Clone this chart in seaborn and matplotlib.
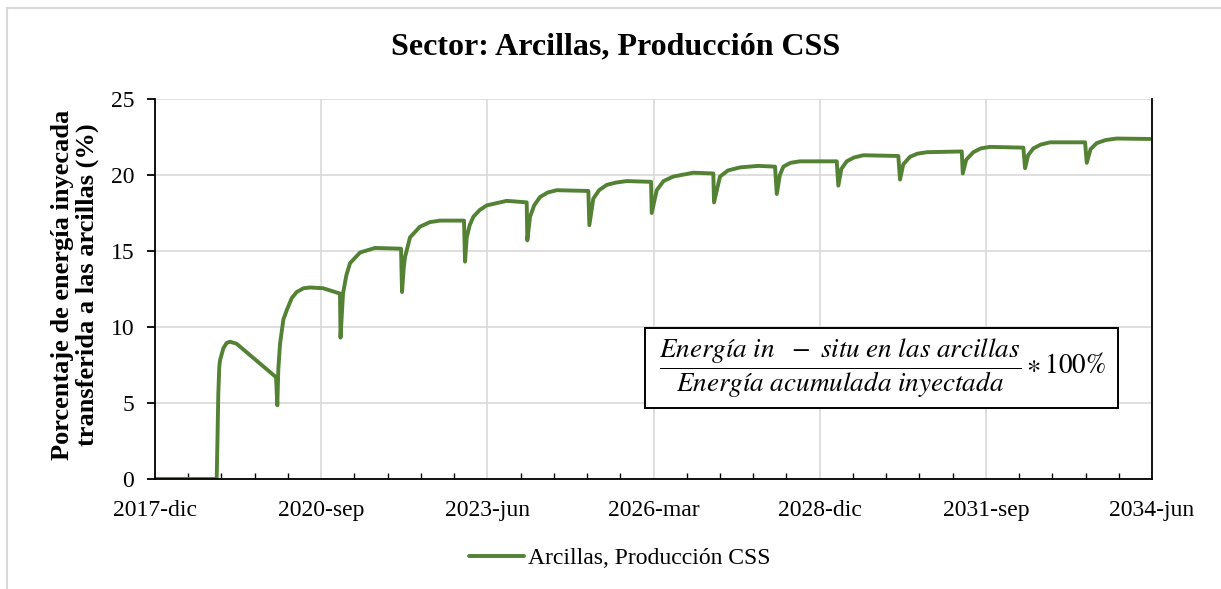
import numpy as np
import pandas as pd
import seaborn as sns
import matplotlib.pyplot as plt
from matplotlib.patches import Rectangle
from matplotlib.ticker import MultipleLocator, FixedLocator

# months counted from 2017-dic, value in %
months = [0, 12.25, 12.45, 12.57, 12.77, 12.91, 13.57, 14.23, 14.90, 16.2,
          24.03, 24.29, 24.49, 24.83, 25.5, 26.16, 27.15, 28.14, 29.5, 30.78,
          33.37, 36.74, 36.84, 37.34, 38.0, 38.73, 40.72, 43.69, 48.86,
          49.06, 49.4, 49.65, 50.65, 52.63, 54.6, 56.60, 61.37,
          61.57, 61.91, 62.5, 63.22, 64.5, 65.88, 69.85, 73.82,
          73.94, 74.48, 75.3, 76.46, 78.0, 79.78, 86.06,
          86.26, 87.05, 88.2, 89.71, 91.5, 93.68, 98.51,
          98.65, 99.64, 101.0, 102.94, 106.91, 110.88,
          111.02, 112.21, 113.8, 116.19, 119.82, 123.14,
          123.48, 124.1, 124.79, 126.2, 128.10, 135.39,
          135.71, 136.3, 137.38, 138.8, 140.68, 147.62,
          147.96, 148.6, 149.95, 151.4, 153.27, 160.22,
          160.42, 161.1, 162.52, 164.0, 165.84, 172.45,
          172.79, 173.4, 174.44, 175.9, 177.76, 184.71,
          185.04, 185.8, 187.03, 188.8, 191.00, 197.62]
values = [0, 0, 3.4, 5.6, 7.4, 7.8, 8.6, 8.95, 9.03, 8.9,
          6.7, 4.85, 7.2, 8.9, 10.5, 11.1, 11.9, 12.3, 12.55, 12.6,
          12.55, 12.2, 9.3, 12.2, 13.4, 14.2, 14.9, 15.2, 15.15,
          12.3, 13.9, 14.6, 15.9, 16.6, 16.9, 17.0, 17.0,
          14.3, 15.9, 16.7, 17.25, 17.7, 18.0, 18.3, 18.2,
          15.7, 17.25, 18.0, 18.55, 18.85, 19.0, 18.95,
          16.7, 18.45, 19.0, 19.35, 19.5, 19.6, 19.55,
          17.5, 19.0, 19.6, 19.9, 20.15, 20.1,
          18.2, 19.9, 20.3, 20.5, 20.6, 20.55,
          18.75, 20.0, 20.55, 20.8, 20.9, 20.9,
          19.3, 20.4, 20.9, 21.15, 21.3, 21.25,
          19.7, 20.7, 21.2, 21.4, 21.5, 21.55,
          20.1, 21.0, 21.5, 21.75, 21.85, 21.8,
          20.45, 21.3, 21.75, 22.0, 22.15, 22.15,
          20.8, 21.7, 22.1, 22.3, 22.4, 22.37]

tick_months = [0, 33, 66, 99, 132, 165, 198]
tick_labels = ["2017-dic", "2020-sep", "2023-jun", "2026-mar", "2028-dic", "2031-sep", "2034-jun"]
series_name = "Arcillas, Producción CSS"

df = pd.DataFrame({"mes": months, "valor": values})

sns.set_style("white")
plt.rcParams['font.family'] = ['Liberation Serif', 'DejaVu Serif']
plt.rcParams['mathtext.fontset'] = 'stix'
plt.rcParams['text.color'] = 'black'
plt.rcParams['axes.labelcolor'] = 'black'
plt.rcParams['xtick.color'] = 'black'
plt.rcParams['ytick.color'] = 'black'

fig = plt.figure(figsize=(12.21, 5.89), dpi=100)
ax = fig.add_axes([155/1221, 1-479/589, 997/1221, 380/589])

sns.lineplot(data=df, x="mes", y="valor", ax=ax, color="#548235", linewidth=2.8,
             label=series_name, sort=False)

ax.set_xlim(0, 198)
ax.set_ylim(0, 25)
ax.xaxis.set_major_locator(FixedLocator(tick_months))
ax.set_xticklabels(tick_labels)
ax.xaxis.set_minor_locator(MultipleLocator(6.6))
ax.yaxis.set_major_locator(MultipleLocator(5))
ax.grid(True, which='major', color='#d9d9d9', linewidth=1.2)
ax.set_axisbelow(True)

for s in ['left', 'bottom', 'right']:
    ax.spines[s].set_color('black')
    ax.spines[s].set_linewidth(1.3)
ax.spines['top'].set_visible(False)

ax.tick_params(axis='x', which='major', direction='inout', length=12, width=1.3,
               labelsize=17, pad=9)
ax.tick_params(axis='x', which='minor', direction='in', length=4, width=1.0, bottom=True)
ax.tick_params(axis='y', which='major', direction='out', length=6, width=1.3,
               labelsize=17, pad=9, left=True)

ax.set_xlabel("")
ax.set_ylabel("Porcentaje de energía inyecada\ntransferida a las arcillas (%)",
              fontsize=19, fontweight='bold', linespacing=1.08)
ax.yaxis.label.set_verticalalignment('center')
ax.yaxis.set_label_coords((75 - 155) / 997, (479 - 285) / 380)

fig.text(616/1221, 1-47/589, "Sector: Arcillas, Producción CSS", ha='center', va='center',
         fontsize=23, fontweight='bold')

# formula box
ax.add_patch(Rectangle(((645-155)/997, (479-408)/380), 473/997, 80/380, transform=ax.transAxes,
                       facecolor='white', edgecolor='black', linewidth=1.4, zorder=5))
ax.text((882-155)/997, (479-368)/380,
        r'$\dfrac{Energía\ in\ \ -\ situ\ en\ las\ arcillas}{Energía\ acumulada\ inyectada} \ast 100\%$',
        transform=ax.transAxes, ha='center', va='center', fontsize=19.5, zorder=6)

ax.legend(loc='center', bbox_to_anchor=((620-155)/997, (479-558)/380), frameon=False, fontsize=17,
          handlelength=2.3, handletextpad=0.2)

fig.patches.append(Rectangle((7/1221, -0.1), 1.2, 1.1 - 8/589, transform=fig.transFigure,
                             fill=False, edgecolor='#d9d9d9', linewidth=1.5))

fig.savefig("out.png", dpi=100)
